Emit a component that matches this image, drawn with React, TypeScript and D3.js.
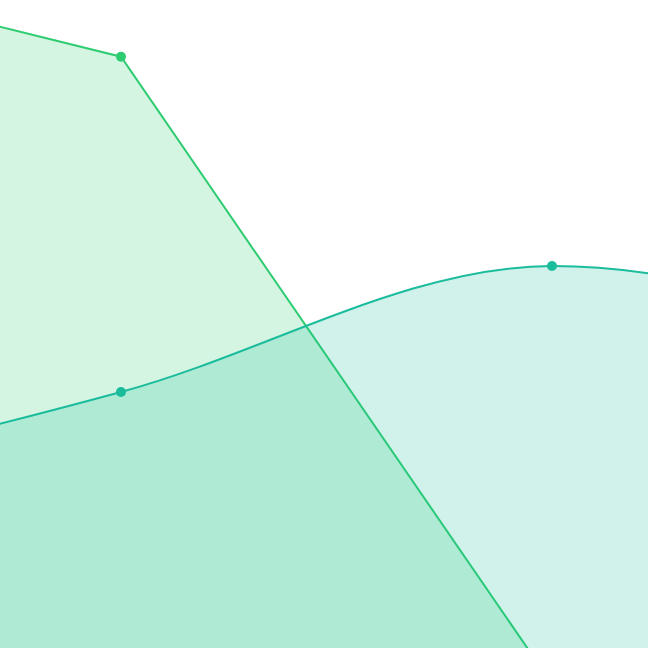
import * as d3 from 'd3';
import { useEffect, useRef } from 'react';

// category positions (index), only the middle two fall inside the view
const categories = [0, 1, 2, 3];
const emeraldValues = [107.1, 91.9, 2.3, 2.0];
const turquoiseValues = [28.6, 44.0, 62.0, 47.4];

const W = 648;
const H = 648;

export default function App() {
  const ref = useRef<SVGSVGElement>(null);

  useEffect(() => {
    if (!ref.current) return;
    const svg = d3.select(ref.current);
    svg.selectAll('*').remove();

    const x = d3.scaleLinear().domain([0, 3]).range([-310, 983]);
    const y = d3.scaleLinear().domain([0, 100]).range([700, 0]);

    const series = [
      { values: emeraldValues, color: '#2ecc71', curve: d3.curveLinear },
      { values: turquoiseValues, color: '#1abc9c', curve: d3.curveMonotoneX },
    ];

    series.forEach(s => {
      const pts = categories.map((c, i) => [c, s.values[i]] as [number, number]);
      const area = d3.area<[number, number]>()
        .x(d => x(d[0]))
        .y0(y(0))
        .y1(d => y(d[1]))
        .curve(s.curve);
      const line = d3.line<[number, number]>()
        .x(d => x(d[0]))
        .y(d => y(d[1]))
        .curve(s.curve);

      svg.append('path')
        .datum(pts)
        .attr('fill', s.color)
        .attr('fill-opacity', 0.2)
        .attr('d', area);

      svg.append('path')
        .datum(pts)
        .attr('fill', 'none')
        .attr('stroke', s.color)
        .attr('stroke-width', 2)
        .attr('d', line);

      svg.selectAll(null)
        .data(pts)
        .enter()
        .append('circle')
        .attr('cx', d => x(d[0]))
        .attr('cy', d => y(d[1]))
        .attr('r', 5)
        .attr('fill', s.color);
    });
  }, []);

  return (
    <svg
      ref={ref}
      width={W}
      height={H}
      style={{ position: 'fixed', left: 0, top: 0, background: '#fff', display: 'block' }}
    />
  );
}
